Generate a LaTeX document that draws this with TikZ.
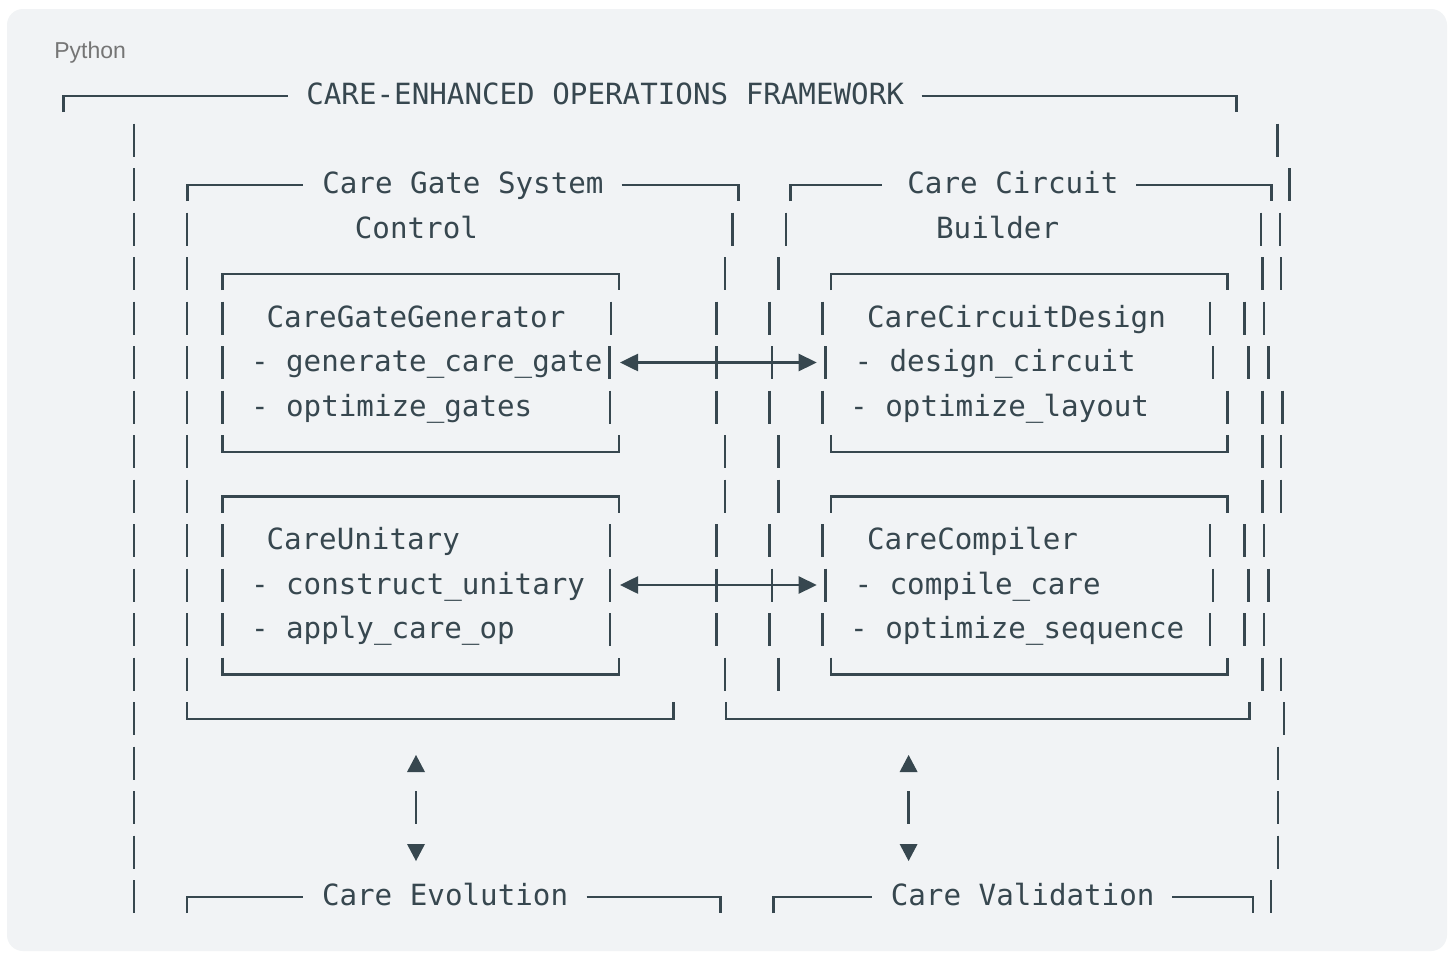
\documentclass[tikz,border=0pt]{standalone}
\usepackage{fontspec}
\setmainfont{Liberation Sans}
\newfontfamily\monof{DejaVu Sans Mono}
\usetikzlibrary{arrows.meta}
\definecolor{inkc}{HTML}{37474F}
\definecolor{bgc}{HTML}{F1F3F5}
\definecolor{labc}{HTML}{757575}
% helpers (row r has centre y = 94 + 44.5 r, in pixels)
\newcommand\vbar[2]{\draw[ln] (#1,{94+44.5*(#2)-15}) -- (#1,{94+44.5*(#2)+18});}
\newcommand\boxtop[3]{\draw[ln] (#1,{94+44.5*(#3)+18}) -- (#1,{94+44.5*(#3)+2}) -- (#2,{94+44.5*(#3)+2}) -- (#2,{94+44.5*(#3)+18});}
\newcommand\boxbot[3]{\draw[ln] (#1,{94+44.5*(#3)-15}) -- (#1,{94+44.5*(#3)+2}) -- (#2,{94+44.5*(#3)+2}) -- (#2,{94+44.5*(#3)-15});}
\newcommand\topl[3]{\draw[ln] (#1,{94+44.5*(#3)+18}) -- (#1,{94+44.5*(#3)+2}) -- (#2,{94+44.5*(#3)+2});}
\newcommand\topr[3]{\draw[ln] (#1,{94+44.5*(#3)+2}) -- (#2,{94+44.5*(#3)+2}) -- (#2,{94+44.5*(#3)+18});}
\newcommand\txt[4]{\node[tx] (#1) at (#2,{94+44.5*(#3)+10.5}) {#4};}
\begin{document}
\begin{tikzpicture}[x=0.5pt,y=-0.5pt,
  ln/.style={draw=inkc,line width=1.3pt,line cap=butt,line join=miter},
  tx/.style={anchor=base west,inner sep=0pt,outer sep=0pt,text=inkc,font=\monof\fontsize{14.6}{17}\selectfont},
  tri/.style={fill=inkc},
  dblarrow/.style={ln,{Triangle[length=9pt,width=8.5pt]}-{Triangle[length=9pt,width=8.5pt]}}]
\useasboundingbox (0,0) rectangle (1453,953);
\fill[white] (0,0) rectangle (1453,953);
\fill[bgc,rounded corners=8pt] (7,9) rectangle (1447,951);
\node[anchor=base west,inner sep=0pt,text=labc,font=\fontsize{11.5}{14}\selectfont] (lang) at (54,58) {Python};

% ---- row 0: outer frame title
\topl{63.3}{288}{0}
\txt{title}{306.3}{0}{CARE-ENHANCED OPERATIONS FRAMEWORK}
\topr{921.7}{1236.7}{0}

% ---- outer left column
\foreach \r in {1,...,18} {\vbar{134}{\r}}
% ---- outer right column
\vbar{1277.7}{1}
\vbar{1289.4}{2}
\vbar{1279.8}{3}
\foreach \r in {4,8,9,13} {\vbar{1281}{\r}}
\foreach \r in {5,10,12} {\vbar{1264}{\r}}
\foreach \r in {6,11} {\vbar{1268.3}{\r}}
\vbar{1282.5}{7}
\vbar{1284}{14}
\foreach \r in {15,16,17} {\vbar{1278}{\r}}
\vbar{1271}{18}

% ---- left group: Care Gate System Control
\topl{187.3}{303}{2}
\txt{gsys}{322.3}{2}{Care Gate System}
\topr{621.7}{738.3}{2}
\txt{gctl}{354.9}{3}{Control}
\foreach \r in {3,...,13} {\vbar{187}{\r}}
\vbar{732.5}{3}
\foreach \r in {4,8,9,13} {\vbar{725}{\r}}
\foreach \r in {5,6,7,10,11,12} {\vbar{716.5}{\r}}
\boxbot{187}{673.7}{14}

% CareGateGenerator box
\boxtop{222.7}{619}{4}
\foreach \r in {5,6,7,10,11,12} {\vbar{222.7}{\r}}
\txt{cgg}{266.5}{5}{CareGateGenerator}
\txt{cgg1}{251}{6}{- generate\_care\_gate}
\txt{cgg2}{251}{7}{- optimize\_gates}
\vbar{611}{5}
\vbar{609.5}{6}
\vbar{610}{7}
\boxbot{222.7}{619}{8}

% CareUnitary box
\boxtop{222.7}{619}{9}
\txt{cu}{266.5}{10}{CareUnitary}
\txt{cu1}{251}{11}{- construct\_unitary}
\txt{cu2}{251}{12}{- apply\_care\_op}
\foreach \r in {10,11,12} {\vbar{610}{\r}}
\boxbot{222.7}{619}{13}

% ---- right group: Care Circuit Builder
\topl{790.7}{882}{2}
\txt{ccir}{907.4}{2}{Care Circuit}
\topr{1136.3}{1271.4}{2}
\txt{cbld}{936.1}{3}{Builder}
\vbar{786}{3}
\foreach \r in {4,8,9,13} {\vbar{778.5}{\r}}
\foreach \r in {5,7,10,12} {\vbar{769.7}{\r}}
\foreach \r in {6,11} {\vbar{772}{\r}}
\vbar{1260.8}{3}
\foreach \r in {4,8,9,13} {\vbar{1262.3}{\r}}
\foreach \r in {5,10,12} {\vbar{1244.5}{\r}}
\foreach \r in {6,11} {\vbar{1248.4}{\r}}
\vbar{1262.6}{7}
\boxbot{726}{1249.2}{14}

% CareCircuitDesign box
\boxtop{830.9}{1227.4}{4}
\foreach \r in {5,7,10,12} {\vbar{822.5}{\r}}
\foreach \r in {6,11} {\vbar{825.5}{\r}}
\txt{ccd}{867}{5}{CareCircuitDesign}
\txt{ccd1}{854.5}{6}{- design\_circuit}
\txt{ccd2}{850.2}{7}{- optimize\_layout}
\vbar{1210}{5}
\vbar{1212.8}{6}
\vbar{1227.4}{7}
\boxbot{830.9}{1227.4}{8}

% CareCompiler box
\boxtop{830.9}{1227.4}{9}
\txt{ccm}{867}{10}{CareCompiler}
\txt{ccm1}{854.5}{11}{- compile\_care}
\txt{ccm2}{850.2}{12}{- optimize\_sequence}
\vbar{1210}{10}
\vbar{1212.8}{11}
\vbar{1210}{12}
\boxbot{830.9}{1227.4}{13}

% ---- horizontal two-way arrows
\coordinate (a1l) at (620,{94+44.5*6+1.5});
\coordinate (a1r) at (816.7,{94+44.5*6+1.5});
\draw[dblarrow] (a1l) -- (a1r);
\coordinate (a2l) at (620,{94+44.5*11+1.5});
\coordinate (a2r) at (816.7,{94+44.5*11+1.5});
\draw[dblarrow] (a2l) -- (a2r);

% ---- vertical two-way arrows (glyph style)
\foreach \x in {416,908.6} {
  \fill[tri] ({\x-9},{94+44.5*15+10.5}) -- ({\x+9},{94+44.5*15+10.5}) -- (\x,{94+44.5*15-6.5}) -- cycle;
  \vbar{\x}{16}
  \fill[tri] ({\x-9},{94+44.5*17-6.5}) -- ({\x+9},{94+44.5*17-6.5}) -- (\x,{94+44.5*17+10.5}) -- cycle;
}

% ---- row 18: lower groups
\topl{187}{303}{18}
\txt{cevo}{322}{18}{Care Evolution}
\topr{586.6}{720.5}{18}
\topl{773.5}{872.2}{18}
\txt{cval}{890.8}{18}{Care Validation}
\topr{1172}{1253}{18}
\end{tikzpicture}
\end{document}
